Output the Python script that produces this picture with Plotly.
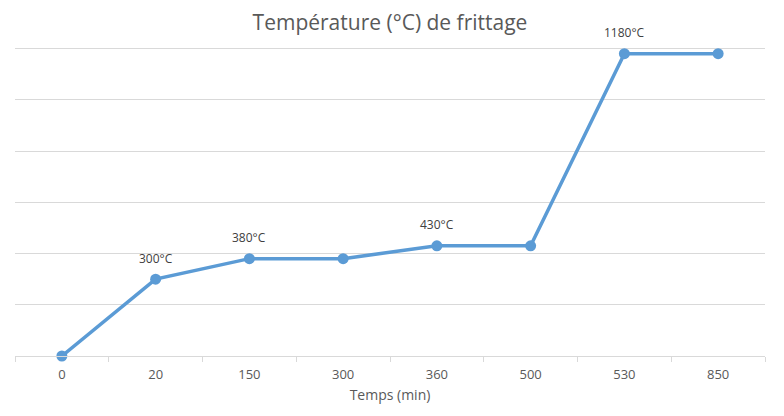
import plotly.graph_objects as go

temps_min = ["0", "20", "150", "300", "360", "500", "530", "850"]
temperature = [0, 300, 380, 380, 430, 430, 1180, 1180]
labels = ["", "300°C", "380°C", "", "430°C", "", "1180°C", ""]

fig = go.Figure()
fig.add_trace(go.Scatter(
    x=temps_min, y=temperature, mode="lines+markers",
    line=dict(color="#5b9bd5", width=3.5),
    marker=dict(color="#5b9bd5", size=11),
    cliponaxis=False, showlegend=False,
))

for i, (yv, lab) in enumerate(zip(temperature, labels)):
    if lab:
        fig.add_annotation(x=i, y=yv, xref="x", yref="y", text=lab,
                           showarrow=False, yshift=21,
                           font=dict(size=12, color="#404040"))

fig.update_layout(
    width=776, height=408,
    paper_bgcolor="white", plot_bgcolor="white",
    margin=dict(l=7, r=19, t=38, b=60),
    font=dict(family="Open Sans, Noto Sans, sans-serif", color="#595959"),
    title=dict(text="Température (°C) de frittage", x=0.5, xanchor="center",
               xref="paper", y=0.965, yanchor="middle",
               font=dict(size=21, color="#595959")),
)
fig.update_xaxes(
    type="category", range=[-0.5, 7.5],
    showline=True, linecolor="#d9d9d9", linewidth=1,
    ticks="outside", tickson="boundaries", ticklen=5, tickcolor="#d9d9d9",
    ticklabelstandoff=6,
    showgrid=False, tickfont=dict(size=13, color="#595959"),
    title=dict(text="Temps (min)", font=dict(size=14, color="#595959"), standoff=8),
)
fig.update_yaxes(
    range=[0, 1210], tickvals=[200, 400, 600, 800, 1000, 1200],
    showgrid=True, gridcolor="#d9d9d9",
    showticklabels=False, zeroline=False, showline=False,
)

fig.write_html("out.html")
